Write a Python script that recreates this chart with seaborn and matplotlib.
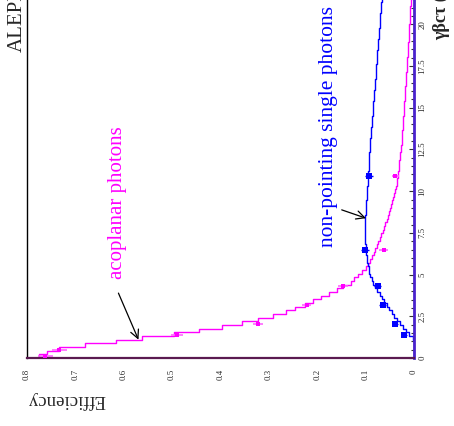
import numpy as np
import pandas as pd
import matplotlib
matplotlib.use("Agg")
import matplotlib.pyplot as plt
import seaborn as sns

# ---------------- data ----------------
bin_width = 0.22
n_bins = 100
gbc_range = (0.0, 22.0)
gbc_centers = np.arange(n_bins) * bin_width + bin_width / 2

acoplanar_eff = [
    0.776, 0.759, 0.733, 0.680, 0.616, 0.562, 0.497, 0.444, 0.397, 0.356,
    0.322, 0.291, 0.265, 0.245, 0.225, 0.208, 0.192, 0.176, 0.160, 0.147,
    0.131, 0.124, 0.115, 0.107, 0.100, 0.095, 0.090, 0.086, 0.083, 0.080,
    0.077, 0.074, 0.071, 0.068, 0.065, 0.062, 0.059, 0.056, 0.053, 0.051,
    0.049, 0.047, 0.045, 0.043, 0.041, 0.039, 0.038, 0.036, 0.035, 0.034,
    0.033, 0.032, 0.031, 0.030, 0.029, 0.028, 0.027, 0.026, 0.025, 0.025,
    0.024, 0.024, 0.023, 0.023, 0.022, 0.022, 0.021, 0.021, 0.020, 0.020,
    0.019, 0.019, 0.018, 0.018, 0.017, 0.017, 0.016, 0.016, 0.015, 0.015,
    0.014, 0.014, 0.013, 0.013, 0.012, 0.012, 0.011, 0.011, 0.010, 0.010,
    0.010, 0.009, 0.009, 0.008, 0.008, 0.008, 0.007, 0.007, 0.007, 0.006,
]
nonpointing_eff = [
    0.000, 0.000, 0.000, 0.000, 0.000, 0.003, 0.010, 0.017, 0.023, 0.029,
    0.035, 0.041, 0.046, 0.051, 0.056, 0.061, 0.066, 0.071, 0.076, 0.080,
    0.084, 0.087, 0.090, 0.092, 0.094, 0.096, 0.097, 0.098, 0.099, 0.100,
    0.100, 0.101, 0.101, 0.101, 0.101, 0.101, 0.101, 0.101, 0.101, 0.100,
    0.100, 0.099, 0.099, 0.098, 0.098, 0.097, 0.097, 0.096, 0.096, 0.095,
    0.095, 0.094, 0.094, 0.093, 0.093, 0.092, 0.091, 0.091, 0.090, 0.090,
    0.089, 0.088, 0.088, 0.087, 0.086, 0.086, 0.085, 0.085, 0.084, 0.084,
    0.083, 0.083, 0.082, 0.081, 0.081, 0.080, 0.079, 0.079, 0.078, 0.078,
    0.077, 0.077, 0.076, 0.076, 0.075, 0.074, 0.074, 0.073, 0.072, 0.072,
    0.071, 0.071, 0.070, 0.070, 0.069, 0.068, 0.068, 0.067, 0.067, 0.066,
]

acop_pts_gbc = [0.1, 0.5, 1.4, 2.05, 3.2, 4.3, 6.5, 10.9]
acop_pts_eff = [0.762, 0.733, 0.490, 0.322, 0.222, 0.147, 0.063, 0.039]
acop_pts_err = [0.015, 0.015, 0.012, 0.010, 0.010, 0.011, 0.009, 0.007]

np_pts_gbc = [1.4, 2.05, 3.2, 4.3, 6.5, 10.9]
np_pts_eff = [0.020, 0.040, 0.065, 0.075, 0.101, 0.093]
np_pts_err = [0.005, 0.006, 0.007, 0.007, 0.008, 0.008]
np_pts_gerr = [0.12, 0.12, 0.12, 0.12, 0.12, 0.12]

eff_ticks = [0.8, 0.7, 0.6, 0.5, 0.4, 0.3, 0.2, 0.1, 0.0]
eff_ticklabels = ["0.8", "0.7", "0.6", "0.5", "0.4", "0.3", "0.2", "0.1", "0"]
gbc_ticks = [0, 2.5, 5, 7.5, 10, 12.5, 15, 17.5, 20]
gbc_ticklabels = ["0", "2.5", "5", "7.5", "10", "12.5", "15", "17.5", "20"]

MAG = "#ff00ff"
BLU = "#0000ff"

hist_acop = pd.DataFrame({"gbc": gbc_centers, "eff": acoplanar_eff})
hist_np = pd.DataFrame({"gbc": gbc_centers, "eff": nonpointing_eff})

# ---------------- style ----------------
sns.set_style("white")
plt.rcParams["font.family"] = ["Liberation Serif", "DejaVu Serif"]

fig = plt.figure(figsize=(4.54, 4.26), dpi=100)
ax = fig.add_axes([27 / 454, 68 / 426, 387 / 454, 367 / 426])

# histograms (rotated: efficiency horizontal, gamma-beta-c-tau vertical)
sns.histplot(data=hist_acop, y="gbc", weights="eff", bins=n_bins, binrange=gbc_range,
             element="step", fill=False, color=MAG, linewidth=1.0, ax=ax)
sns.histplot(data=hist_np, y="gbc", weights="eff", bins=n_bins, binrange=gbc_range,
             element="step", fill=False, color=BLU, linewidth=1.0, ax=ax)

# data points with error bars
ax.errorbar(acop_pts_eff, acop_pts_gbc, xerr=acop_pts_err, fmt="none",
            ecolor="#ff66ff", elinewidth=1.2, capsize=0)
ax.errorbar(np_pts_eff, np_pts_gbc, xerr=np_pts_err, yerr=np_pts_gerr, fmt="none",
            ecolor=BLU, elinewidth=1.0, capsize=0)
sns.scatterplot(x=acop_pts_eff, y=acop_pts_gbc, marker="s", s=10, color=MAG,
                edgecolor=MAG, linewidth=0, ax=ax, zorder=5)
sns.scatterplot(x=np_pts_eff, y=np_pts_gbc, marker="s", s=14, color=BLU,
                edgecolor=BLU, linewidth=0, ax=ax, zorder=5)

ax.set_xlim(0.8, 0.0)
ax.set_ylim(0, 22)
ax.set_xlabel("")
ax.set_ylabel("")

# ticks
ax.set_xticks(eff_ticks)
ax.set_xticklabels(eff_ticklabels, rotation=90, fontsize=6.3)
ax.yaxis.tick_right()
ax.set_yticks(gbc_ticks)
ax.set_yticklabels(gbc_ticklabels, rotation=90, fontsize=6.3, va="center")
ax.set_yticks(np.arange(0, 22.01, 0.5), minor=True)
ax.tick_params(axis="x", direction="in", length=5, width=0.8, pad=8, color="#333333")
ax.tick_params(axis="y", which="major", direction="in", length=3.8, width=0.8, pad=3,
               color="#333333", left=False, right=True)
ax.tick_params(axis="y", which="minor", direction="in", length=2, width=0.8,
               color="#333333", left=False, right=True)

for s in ax.spines.values():
    s.set_visible(True)
ax.spines["left"].set_color("black")
ax.spines["left"].set_linewidth(1.0)
ax.spines["bottom"].set_color("#5a1a50")
ax.spines["bottom"].set_linewidth(1.6)
ax.spines["right"].set_color("#4a22cc")
ax.spines["right"].set_linewidth(2.0)
ax.spines["top"].set_visible(False)

# annotations
ax.text(0.6126, 9.30, "acoplanar photons", rotation=90, color=MAG, fontsize=15,
        ha="center", va="center")
ax.annotate("", xy=(0.5696, 1.10), xytext=(0.611, 3.89),
            arrowprops=dict(arrowstyle="->,head_length=0.6,head_width=0.3",
                            color="black", lw=0.9, mutation_scale=10,
                            shrinkA=0, shrinkB=0))
ax.text(0.1777, 13.85, "non-pointing single photons", rotation=90, color=BLU,
        fontsize=15.5, ha="center", va="center")
ax.annotate("", xy=(0.0992, 8.38), xytext=(0.1494, 8.88),
            arrowprops=dict(arrowstyle="->,head_length=0.6,head_width=0.3",
                            color="black", lw=0.9, mutation_scale=10,
                            shrinkA=0, shrinkB=0))

# axis titles and experiment label (figure coordinates; cropped at the top as in the original)
fig.text(27 / 454, (426 - 399.5) / 426, "Efficiency", rotation=180, fontsize=13.5,
         ha="left", va="center")
fig.text(441 / 454, (426 - 40) / 426, "γβcτ (m)", rotation=90, fontsize=13,
         fontweight="bold", ha="center", va="bottom")
fig.text(17.5 / 454, (426 - 52) / 426, "ALEPH", rotation=90, fontsize=15,
         ha="center", va="bottom")

fig.savefig("out.png", dpi=100)
